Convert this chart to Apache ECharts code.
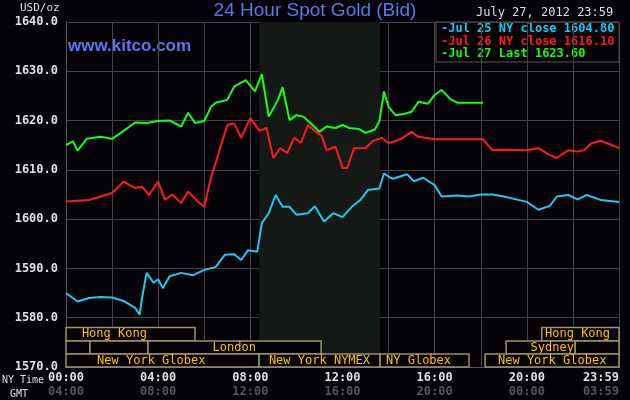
<!DOCTYPE html>
<html><head><meta charset="utf-8">
<script src="https://cdn.jsdelivr.net/npm/echarts@6/dist/echarts.min.js"></script>
<style>html,body{margin:0;background:#050308}#c{width:630px;height:400px}</style>
</head><body><div id="c"></div>
<script>
const jul25Hours = [0,0.5,1,1.5,2,2.5,3,3.2,3.3,3.5,3.8,4,4.2,4.5,5,5.5,6,6.5,6.9,7.3,7.6,7.9,8.3,8.5,8.8,9.1,9.4,9.7,10,10.5,10.8,11.2,11.6,12,12.4,12.8,13.1,13.6,13.8,14,14.2,14.8,15.1,15.5,16,16.3,17,17.5,18,18.5,19,20,20.5,21,21.3,21.8,22.2,22.6,23.2,24];
const jul25Values = [1585.0,1583.3,1584.0,1584.2,1584.1,1583.4,1582.0,1580.6,1584.0,1589.1,1587.1,1587.8,1586.0,1588.4,1589.1,1588.6,1589.7,1590.3,1592.8,1592.9,1591.7,1593.7,1593.4,1599.2,1601.2,1604.9,1602.5,1602.5,1600.9,1601.2,1602.6,1599.5,1601.2,1600.4,1602.5,1604.0,1605.9,1606.2,1609.3,1608.6,1608.2,1609.1,1607.7,1608.4,1606.9,1604.6,1604.8,1604.6,1605.0,1605.0,1604.6,1603.5,1601.9,1602.7,1604.6,1604.9,1604.0,1604.9,1603.9,1603.5];
const jul26Hours = [0,1,2,2.5,3,3.3,3.6,4,4.3,4.6,5,5.3,5.7,6,6.3,6.6,7,7.3,7.6,8,8.4,8.7,9,9.3,9.6,9.9,10.2,10.5,10.8,11.1,11.3,11.7,12,12.2,12.5,13,13.3,13.7,14,14.5,15,15.3,16,18.1,18.5,19,20,20.5,21,21.3,21.8,22.2,22.5,22.8,23.2,23.6,24];
const jul26Values = [1603.6,1603.9,1605.3,1607.6,1606.3,1606.6,1604.9,1607.6,1603.9,1605.0,1603.3,1605.6,1603.6,1602.5,1608.6,1613.0,1619.1,1619.4,1616.5,1620.5,1617.9,1618.5,1612.4,1614.4,1613.4,1616.5,1615.5,1619.1,1617.9,1616.9,1614.0,1614.7,1610.4,1610.4,1614.4,1614.4,1615.8,1616.5,1615.4,1616.2,1617.7,1616.7,1616.2,1616.2,1614.0,1614.1,1614.0,1614.4,1613.0,1612.4,1614.0,1613.7,1614.0,1615.4,1615.9,1615.2,1614.4];
const jul27Hours = [0,0.3,0.5,0.9,1.5,2,2.5,3,3.5,4,4.5,5,5.3,5.6,6,6.3,6.5,7,7.3,7.8,8.2,8.5,8.8,9.2,9.4,9.7,10,10.3,10.7,11,11.3,11.7,12,12.3,12.7,13,13.4,13.6,13.8,14,14.3,14.7,15,15.3,15.7,16,16.3,16.7,17,18.1];
const jul27Values = [1615.0,1615.8,1613.9,1616.3,1616.7,1616.3,1617.9,1619.6,1619.5,1619.9,1620.0,1618.8,1621.6,1619.5,1619.9,1622.8,1623.6,1624.2,1626.9,1628.2,1625.9,1629.4,1620.8,1624.2,1626.8,1620.1,1621.1,1620.8,1619.1,1617.7,1618.8,1618.5,1619.1,1618.5,1618.3,1617.5,1618.2,1619.8,1625.9,1622.8,1621.1,1621.4,1621.8,1623.8,1623.4,1625.2,1626.2,1624.3,1623.6,1623.6];
const yTicks = [1570,1580,1590,1600,1610,1620,1630,1640];
const sessionRows = [[1578.0,1575.3],[1575.3,1572.65],[1572.65,1570]];
// [row, startHour, endHour, label, labelHour]
const sessions = [
 [0,0,5.6,'Hong Kong',2.1],[0,20.65,24,'Hong Kong',22.2],
 [1,0,1.04,'',0],[1,1.04,3.56,'',0],[1,3.56,11.07,'London',7.3],[1,19.1,22.1,'Sydney',21.1],[1,22.1,24,'',0],
 [2,0,8.38,'New York Globex',3.7],[2,8.38,13.63,'New York NYMEX',11.0],[2,13.63,17.49,'NY Globex',15.3],[2,18.19,24,'New York Globex',21.1]
];
const nymexHours = [8.38,13.63];
const legendItems = [['Jul 25 NY close 1604.80','#1ec8f0'],['Jul 26 NY close 1616.10','#ff1a1a'],['Jul 27 Last 1623.60','#14ff14']];

const zip=(a,b)=>a.map((t,i)=>[t,b[i]]);
const mono='"DejaVu Sans Mono", monospace';
const pad=h=>String(h).padStart(2,'0')+':00';
const chart=echarts.init(document.getElementById('c'));
chart.setOption({
 backgroundColor:'#050308', animation:false,
 grid:{left:66,right:11,top:22,bottom:33},
 xAxis:{type:'value',min:0,max:24,interval:2,
  axisLine:{show:true,lineStyle:{color:'#555'}},axisTick:{show:false},
  splitLine:{show:true,lineStyle:{color:'#444',width:1}},
  axisLabel:{alignMaxLabel:'right',margin:4,lineHeight:14,
   formatter:v=>{ if(v===24) return '{a|23:59}\n{b|03:59}'; if(v%4) return ''; return '{a|'+pad(v)+'}\n{b|'+pad((v+4)%24)+'}';},
   rich:{a:{color:'#e0e0e0',fontFamily:mono,fontWeight:'bold',fontSize:12},b:{color:'#555',fontFamily:mono,fontWeight:'bold',fontSize:12}}}},
 yAxis:{type:'value',min:yTicks[0],max:yTicks[yTicks.length-1],interval:10,
  axisLine:{show:true,lineStyle:{color:'#555'}},axisTick:{show:false},
  splitLine:{lineStyle:{color:'#444',width:1}},
  axisLabel:{formatter:v=>v.toFixed(1),color:'#e0e0e0',fontFamily:mono,fontWeight:'bold',fontSize:12,margin:8}},
 series:[
  {type:'line',data:[],markArea:{silent:true,itemStyle:{color:'#151915'},data:[[{xAxis:nymexHours[0]},{xAxis:nymexHours[1]}]]}},
  {type:'line',data:zip(jul25Hours,jul25Values),showSymbol:false,lineStyle:{color:legendItems[0][1],width:2}},
  {type:'line',data:zip(jul26Hours,jul26Values),showSymbol:false,lineStyle:{color:legendItems[1][1],width:2}},
  {type:'line',data:zip(jul27Hours,jul27Values),showSymbol:false,lineStyle:{color:legendItems[2][1],width:2}},
  {type:'custom',data:sessions,renderItem:(p,api)=>{
    const r=api.value(0),s=api.value(1),e=api.value(2),lh=api.value(4);
    const d=sessions[p.dataIndex];
    const p1=api.coord([s,sessionRows[r][0]]),p2=api.coord([e,sessionRows[r][1]]);
    const ch=[{type:'rect',shape:{x:p1[0],y:p1[1],width:p2[0]-p1[0],height:p2[1]-p1[1]},style:{fill:'#050308',stroke:'#9a9468',lineWidth:1.5}}];
    if(d[3]){const pl=api.coord([lh,sessionRows[r][0]]);
     ch.push({type:'text',style:{x:pl[0],y:(p1[1]+p2[1])/2,text:d[3],fill:'#ffc000',font:'12px '+mono,align:'center',verticalAlign:'middle'}});}
    return {type:'group',children:ch};
  }}
 ],
 graphic:[
  {type:'text',left:'center',top:1,style:{text:'24 Hour Spot Gold (Bid)',fill:'#5a78e8',font:'19px "Liberation Sans", Arial'}},
  {type:'text',left:68,top:38,style:{text:'www.kitco.com',fill:'#5a78e8',font:'bold 17px "Liberation Sans", Arial'}},
  {type:'text',left:20,top:3,style:{text:'USD/oz',fill:'#ddd',font:'11px '+mono}},
  {type:'text',left:476,top:7,style:{text:'July 27, 2012 23:59',fill:'#ddd',font:'12px '+mono}},
  {type:'rect',shape:{x:436,y:22,width:183,height:40},style:{fill:'#050308',stroke:'#555',lineWidth:1}},
  ...legendItems.map((l,i)=>({type:'text',left:441,top:23+i*12.5,style:{text:'-'+l[0],fill:l[1],font:'bold 12px '+mono}})),
  {type:'text',left:2,top:375,style:{text:'NY Time',fill:'#ddd',font:'10px '+mono}},
  {type:'text',left:10,top:389,style:{text:'GMT',fill:'#ddd',font:'10px '+mono}}
 ]
});
</script></body></html>
